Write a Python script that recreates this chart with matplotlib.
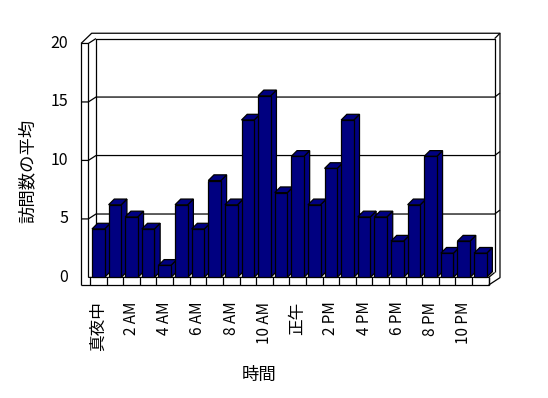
import matplotlib.pyplot as plt
from matplotlib.patches import Polygon
import numpy as np

plt.rcParams['font.family'] = ['Noto Sans CJK JP', 'DejaVu Sans']

# average visits per hour
hours = ["真夜中", "1 AM", "2 AM", "3 AM", "4 AM", "5 AM", "6 AM", "7 AM",
         "8 AM", "9 AM", "10 AM", "11 AM", "正午", "1 PM", "2 PM", "3 PM",
         "4 PM", "5 PM", "6 PM", "7 PM", "8 PM", "9 PM", "10 PM", "11 PM"]
visits = [4, 6, 5, 4, 1, 6, 4, 8, 6, 13, 15, 7, 10, 6, 9, 13, 5, 5, 3, 6, 10, 2, 3, 2]
y_ticks = [0, 5, 10, 15, 20]
x_title = "時間"
y_title = "訪問数の平均"

NAVY = "#000080"
LW = 0.9
# oblique depth offsets (data units)
DX, DY = 0.36, 0.405      # walls / floor
BDX, BDY = 0.343, 0.47    # bars
BW = 0.76
SHRINK = 0.966            # back wall scale

n = len(visits)
x0, x1 = -0.5, n - 0.5

fig = plt.figure(figsize=(5.48, 3.98), dpi=100)
ax = fig.add_axes([0, 0, 1, 1])
ax.set_xlim(-5.918, 27.07)
ax.set_ylim(-9.96, 22.91)
ax.axis("off")


def line(xs, ys, z=1):
    ax.plot(xs, ys, color="black", lw=LW, zorder=z, solid_capstyle="butt")


top = max(y_ticks)
bl, br = x0 + DX, x1 + DX          # back wall left/right
wl_in, wl_out = x0 - 0.1, x0 - 0.54  # left wall front edge
yb_top = SHRINK * top + DY
slab_top = yb_top + 0.44
slab_r = br + 0.32
floor_bot = -0.63

# back wall slab outline
line([bl, bl, br, br], [DY, yb_top, yb_top, DY])
line([wl_out, bl - 0.26, slab_r, slab_r, x1],
     [SHRINK * top, slab_top, slab_top, -0.02, floor_bot])
line([br, slab_r], [yb_top, slab_top])

# left wall
line([wl_out, wl_out], [SHRINK * top, floor_bot])
line([wl_in, wl_in], [SHRINK * top, 0])
line([wl_out, wl_in, bl], [SHRINK * top, SHRINK * top, yb_top])

# floor
line([wl_in, x1, br], [0, 0, DY])
line([wl_out, x1], [floor_bot, floor_bot])
line([x1, x1], [0, floor_bot])
for k in range(n + 1):
    line([x0 + k, x0 + k], [0, floor_bot])

# gridlines
for v in y_ticks[1:-1]:
    yb = SHRINK * v + DY
    yf = SHRINK * v
    line([wl_out, wl_in, bl, br, slab_r], [yf, yf, yb, yb, yb + 0.33])

# y tick labels
for v in y_ticks:
    ax.text(-1.81, SHRINK * v, str(v), ha="right", va="center", fontsize=11.5)

# bars
for i, v in enumerate(visits):
    z = 3 + i * 0.01
    xl, xr = i - BW / 2, i + BW / 2
    side = Polygon([(xr, 0), (xr + BDX, BDY), (xr + BDX, v + BDY), (xr, v)],
                   closed=True, facecolor=NAVY, edgecolor="black", lw=LW, zorder=z)
    topf = Polygon([(xl, v), (xl + BDX, v + BDY), (xr + BDX, v + BDY), (xr, v)],
                   closed=True, facecolor=NAVY, edgecolor="black", lw=LW, zorder=z)
    ax.add_patch(side)
    ax.add_patch(topf)
    ax.bar(i, v, width=BW, color=NAVY, edgecolor="black", lw=LW, zorder=z + 0.005)

# x tick labels (every other hour)
for i in range(0, n, 2):
    fs = 11 if hours[i].isascii() else 12
    ax.text(i, -2.0, hours[i], rotation=90, ha="center", va="top", fontsize=fs)

ax.text(9.67, -8.06, x_title, ha="center", va="center", fontsize=12.5)
ax.text(-4.23, 8.8, y_title, rotation=90, ha="center", va="center", fontsize=12.5)

fig.savefig("out.png", dpi=100)
